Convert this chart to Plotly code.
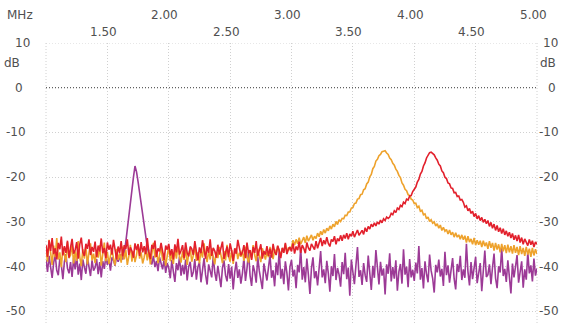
import numpy as np
import plotly.graph_objects as go

# Frequency grid (MHz), sampled every 0.0125 MHz from 1.00 to 5.00
FREQ_START = 1.0
FREQ_STOP = 5.0
N_POINTS = 321

purple_db = [
    -38.5,-41.2,-37.6,-40.3,-42.5,-39.1,-37.4,-40.8,-41.9,-38.2,-39.6,-42.8,-38.9,-37.2,-40.4,-41.5,
    -39.0,-42.3,-38.1,-40.6,-37.5,-41.8,-39.3,-43.0,-38.4,-40.1,-41.6,-37.9,-39.8,-42.1,-38.6,-40.9,
    -40.2,-38.3,-41.7,-39.0,-42.4,-38.8,-40.5,-37.7,-39.6,-38.2,-40.9,-37.9,-38.6,-39.8,-37.5,-38.9,
    -38.0,-37.2,-38.4,-36.9,-34.5,-31.5,-28.5,-25.0,-22.5,-20.0,-17.5,-18.8,-21.0,-23.6,-26.0,-28.6,
    -31.0,-33.5,-35.6,-37.2,-38.2,-39.5,-37.6,-40.1,-38.7,-41.0,-37.9,-39.4,-40.6,-38.3,-41.4,-39.2,
    -40.3,-42.6,-38.5,-41.1,-43.4,-39.2,-40.8,-37.8,-42.0,-39.6,-41.7,-38.4,-43.1,-40.0,-38.9,-42.3,
    -41.2,-38.3,-42.9,-40.1,-39.0,-43.5,-40.7,-38.1,-41.8,-44.0,-39.5,-40.9,-42.4,-37.6,-41.3,-43.2,
    -39.8,-42.1,-44.6,-40.3,-38.6,-41.9,-43.3,-39.4,-42.7,-40.0,-45.1,-41.2,-38.9,-42.5,-40.6,-43.8,
    -41.5,-38.0,-43.2,-40.4,-36.6,-42.0,-44.3,-39.7,-41.1,-43.6,-37.8,-40.9,-42.8,-45.0,-39.3,-41.7,
    -43.1,-40.2,-37.4,-42.5,-40.8,-44.4,-39.1,-41.9,-36.2,-42.7,-40.5,-43.9,-38.8,-41.4,-45.3,-40.0,
    -38.5,-42.2,-40.7,-44.8,-39.6,-41.3,-35.8,-42.9,-40.1,-43.5,-38.2,-41.8,-46.1,-40.4,-37.9,-42.6,
    -41.0,-44.2,-39.3,-36.5,-42.4,-40.6,-43.7,-38.7,-41.5,-45.6,-39.9,-42.1,-37.2,-43.0,-40.3,-41.8,
    -44.5,-39.0,-41.7,-36.9,-42.8,-40.2,-46.5,-38.4,-41.2,-43.9,-39.7,-35.6,-42.3,-40.8,-44.1,-39.2,
    -41.9,-43.4,-37.5,-40.6,-45.2,-39.8,-42.5,-36.3,-41.4,-44.0,-38.9,-42.0,-40.4,-46.2,-39.5,-41.6,
    -37.0,-43.3,-40.1,-42.7,-38.6,-45.4,-41.1,-39.4,-43.8,-36.1,-41.8,-40.0,-44.6,-38.3,-42.4,-40.7,
    -43.2,-39.1,-41.5,-35.4,-42.9,-40.3,-44.9,-38.8,-41.7,-43.5,-37.3,-40.9,-42.6,-45.8,-39.6,-41.3,
    -38.4,-42.2,-40.5,-44.3,-36.7,-41.9,-39.7,-43.6,-40.8,-38.1,-42.7,-45.1,-39.4,-41.2,-37.6,-43.0,
    -40.6,-42.5,-34.9,-41.1,-44.2,-39.0,-42.8,-40.3,-37.8,-43.7,-41.4,-39.2,-45.5,-40.7,-36.4,-42.3,
    -41.8,-39.5,-43.9,-40.2,-37.1,-42.6,-44.8,-39.9,-41.3,-35.7,-42.1,-40.5,-43.4,-38.6,-41.9,-46.0,
    -39.3,-42.4,-40.0,-37.4,-43.6,-41.2,-38.8,-44.7,-40.6,-42.9,-36.8,-41.5,-39.7,-43.3,-38.2,-42.0,
    -40.4,
]

orange_db = [
    -36.2,-38.9,-34.0,-37.5,-39.6,-35.3,-37.9,-33.6,-38.4,-36.8,-40.1,-35.7,-37.2,-39.0,-34.5,-38.1,
    -37.4,-35.0,-39.3,-36.6,-38.7,-34.3,-37.8,-39.9,-36.1,-38.2,-35.4,-39.5,-36.9,-34.8,-38.6,-37.1,
    -39.2,-36.4,-38.0,-35.2,-39.8,-37.3,-34.6,-38.8,-36.7,-39.4,-37.6,-35.9,-38.3,-39.7,-36.0,-38.5,
    -37.0,-39.1,-35.5,-38.4,-36.3,-39.6,-37.7,-35.1,-38.9,-36.5,-39.0,-37.4,-34.9,-38.2,-36.8,-39.3,
    -37.9,-35.8,-38.6,-36.2,-39.5,-37.1,-34.7,-38.0,-36.4,-39.2,-37.5,-35.6,-38.7,-36.9,-39.8,-37.3,
    -35.4,-38.8,-37.0,-39.4,-36.1,-38.2,-34.9,-37.8,-39.1,-36.6,-38.5,-35.7,-39.6,-37.2,-36.0,-38.9,
    -37.5,-35.3,-38.7,-36.8,-39.3,-36.2,-38.0,-34.8,-37.6,-39.0,-36.4,-38.4,-35.9,-37.9,-39.5,-36.7,
    -38.1,-35.6,-37.3,-39.2,-36.5,-38.6,-35.1,-37.7,-38.9,-36.3,-39.4,-37.0,-35.8,-38.3,-36.9,-37.8,
    -36.4,-38.7,-35.5,-37.9,-39.1,-36.6,-38.2,-35.2,-37.4,-38.8,-36.0,-37.7,-39.0,-35.9,-37.1,-38.4,
    -36.7,-37.9,-35.6,-37.2,-38.3,-36.1,-37.0,-35.4,-36.8,-37.6,-35.9,-36.5,-34.9,-36.9,-35.7,-36.2,
    -35.6,-34.1,-35.2,-33.9,-34.9,-33.5,-35.0,-34.2,-33.4,-34.7,-33.1,-34.3,-33.7,-32.9,-34.1,-33.2,
    -33.7,-32.5,-33.3,-32.1,-32.9,-31.7,-32.5,-31.4,-32.0,-30.9,-31.6,-30.5,-31.1,-29.9,-30.6,-29.5,
    -29.9,-29.2,-29.3,-28.5,-28.6,-27.8,-27.8,-26.9,-26.8,-25.9,-25.8,-24.9,-24.8,-23.9,-23.8,-22.8,
    -22.6,-21.5,-21.1,-19.9,-19.4,-18.1,-17.6,-16.4,-16.0,-15.2,-14.9,-14.3,-14.2,-14.1,-14.6,-14.9,
    -15.7,-16.1,-16.9,-17.3,-18.2,-18.7,-19.6,-20.1,-21.3,-21.8,-22.7,-23.0,-23.9,-24.1,-24.9,-25.1,
    -25.9,-25.8,-26.8,-26.5,-27.6,-27.4,-28.4,-28.2,-29.3,-28.9,-29.9,-29.5,-30.3,-30.0,-30.9,-30.4,
    -31.4,-30.7,-31.9,-31.2,-32.1,-31.7,-32.7,-31.8,-32.9,-32.3,-33.4,-32.4,-33.4,-32.9,-33.9,-32.9,
    -34.0,-33.1,-34.6,-33.2,-34.5,-33.8,-35.0,-33.6,-35.2,-34.1,-35.1,-34.2,-35.6,-34.2,-35.4,-34.6,
    -36.0,-34.3,-35.8,-34.7,-36.4,-34.7,-36.2,-35.0,-36.8,-34.9,-36.6,-35.2,-37.0,-35.1,-36.8,-35.4,
    -37.1,-35.2,-36.9,-35.6,-37.4,-35.4,-37.2,-35.8,-37.6,-35.6,-37.3,-36.0,-37.8,-35.8,-37.5,-36.1,
    -37.2,
]

red_db = [
    -35.2,-37.8,-34.1,-36.5,-33.6,-37.2,-35.9,-38.4,-34.7,-36.1,-33.3,-37.5,-35.4,-36.9,-34.2,-38.0,
    -35.7,-33.8,-37.1,-36.3,-34.5,-38.2,-35.0,-33.5,-36.8,-37.6,-34.9,-36.0,-33.9,-37.4,-35.6,-36.7,
    -34.4,-37.9,-35.3,-36.6,-33.7,-37.0,-35.8,-38.1,-34.6,-36.2,-35.1,-37.3,-34.0,-36.4,-38.3,-35.5,
    -36.9,-34.3,-37.7,-35.2,-36.1,-33.9,-37.4,-35.7,-36.5,-38.0,-34.8,-36.3,-35.0,-37.6,-34.5,-36.8,
    -35.4,-37.2,-33.6,-36.7,-38.3,-35.1,-36.0,-34.2,-37.8,-35.9,-36.6,-34.7,-37.1,-38.5,-35.3,-36.2,
    -34.9,-37.5,-36.1,-38.4,-35.0,-36.8,-33.8,-37.3,-36.4,-35.2,-38.1,-34.6,-36.9,-37.7,-35.5,-36.0,
    -37.4,-34.3,-36.6,-38.6,-35.7,-37.0,-34.1,-36.3,-38.2,-35.4,-36.9,-33.9,-37.6,-35.8,-36.5,-38.0,
    -35.1,-37.3,-36.0,-34.4,-38.3,-36.7,-35.5,-37.9,-34.8,-36.4,-38.7,-35.9,-37.1,-34.0,-36.2,-37.5,
    -36.8,-35.2,-38.1,-34.6,-37.0,-36.3,-38.5,-35.6,-36.9,-34.3,-37.7,-36.1,-35.0,-38.2,-36.5,-37.3,
    -35.4,-37.6,-36.0,-38.0,-34.9,-36.7,-37.4,-35.3,-36.4,-38.1,-35.8,-36.9,-34.7,-37.2,-36.1,-35.6,
    -36.6,-34.8,-37.1,-35.5,-36.3,-34.4,-36.9,-35.2,-35.9,-37.0,-34.6,-35.8,-36.4,-34.9,-35.5,-36.2,
    -34.3,-35.9,-34.7,-33.6,-35.4,-34.1,-35.0,-33.4,-34.8,-35.5,-33.9,-34.4,-33.2,-35.0,-33.7,-34.3,
    -33.0,-34.2,-32.9,-33.7,-32.5,-33.9,-32.7,-33.2,-32.1,-33.4,-32.6,-31.8,-33.0,-32.3,-31.9,-32.8,
    -31.3,-32.2,-31.0,-31.6,-30.5,-31.1,-30.2,-30.9,-30.0,-30.5,-29.6,-30.2,-29.3,-29.7,-28.9,-29.2,
    -28.9,-28.1,-28.4,-27.5,-27.9,-26.9,-27.2,-26.3,-26.6,-25.6,-25.9,-24.9,-25.1,-24.2,-24.1,-23.2,
    -22.6,-22.2,-21.1,-20.5,-19.3,-18.7,-17.5,-16.8,-15.7,-15.2,-14.5,-14.4,-14.7,-15.0,-15.7,-16.2,
    -17.1,-17.5,-18.6,-19.0,-20.0,-20.3,-21.3,-21.5,-22.4,-22.5,-23.5,-23.4,-24.3,-24.2,-25.1,-25.0,
    -25.6,-26.7,-26.4,-27.5,-27.0,-28.1,-27.6,-28.8,-28.1,-29.3,-28.6,-29.7,-29.0,-30.1,-29.4,-30.4,
    -29.7,-31.0,-30.1,-31.4,-30.5,-31.9,-30.8,-32.2,-31.3,-32.6,-31.5,-32.9,-32.0,-33.2,-32.3,-33.6,
    -32.6,-34.0,-33.0,-34.3,-32.9,-34.6,-33.5,-35.0,-33.8,-34.4,-35.3,-33.9,-35.1,-34.2,-35.6,-34.5,
    -35.0,
]

assert len(purple_db) == N_POINTS and len(orange_db) == N_POINTS and len(red_db) == N_POINTS

freq_mhz = np.round(np.linspace(FREQ_START, FREQ_STOP, N_POINTS), 4)

x_ticks_top = [2.0, 3.0, 4.0, 5.0]
x_ticks_bottom = [1.5, 2.5, 3.5, 4.5]
y_ticks = [10, 0, -10, -20, -30, -40, -50]

PURPLE = "#9c3a96"
ORANGE = "#eea22c"
RED = "#e2202c"
TEXT = "#505050"
GRID = "#d0d0d0"
GRID_DASH = "1px,2px"
FONT = "DejaVu Sans"

fig = go.Figure()
for vals, col in [(purple_db, PURPLE), (orange_db, ORANGE), (red_db, RED)]:
    fig.add_trace(go.Scatter(x=freq_mhz, y=vals, mode="lines",
                             line=dict(color=col, width=1.6), hoverinfo="skip"))

fig.update_layout(
    width=561, height=323,
    margin=dict(l=46, r=24, t=43, b=0),
    paper_bgcolor="white", plot_bgcolor="white",
    showlegend=False,
    font=dict(family=FONT, size=12, color=TEXT),
    xaxis=dict(range=[1.0, 5.0], tick0=1.0, dtick=0.5, showticklabels=False,
               showgrid=True, gridcolor=GRID, griddash=GRID_DASH, gridwidth=1,
               zeroline=False, showline=False, ticks=""),
    yaxis=dict(range=[-52.6, 10], tick0=10, dtick=10, showticklabels=False,
               showgrid=True, gridcolor=GRID, griddash=GRID_DASH, gridwidth=1,
               zeroline=False, showline=False, ticks=""),
)

# plot frame edges (dotted, like the grid)
for xe in (0, 1):
    fig.add_shape(type="line", xref="paper", yref="paper", x0=xe, x1=xe, y0=0, y1=1,
                  line=dict(color=GRID, width=1, dash=GRID_DASH), layer="below")
fig.add_shape(type="line", xref="paper", yref="y", x0=0, x1=1, y0=10, y1=10,
              line=dict(color=GRID, width=1, dash=GRID_DASH), layer="below")

# dark dotted reference line at 0 dB
fig.add_shape(type="line", xref="paper", yref="y", x0=0, x1=1, y0=0, y1=0,
              line=dict(color="#404040", width=1, dash="1px,2px"))

# x tick labels (staggered, above the plot)
for v in x_ticks_top:
    fig.add_annotation(x=v, xref="x", y=1, yref="paper", text=f"{v:.2f}",
                       showarrow=False, xanchor="center", yanchor="middle",
                       xshift=-4, yshift=28)
for v in x_ticks_bottom:
    fig.add_annotation(x=v, xref="x", y=1, yref="paper", text=f"{v:.2f}",
                       showarrow=False, xanchor="center", yanchor="middle",
                       xshift=-4, yshift=11)
fig.add_annotation(x=0, xref="paper", y=1, yref="paper", text="MHz",
                   showarrow=False, xanchor="center", yanchor="middle",
                   xshift=-26, yshift=28)

# y tick labels on both sides
for v in y_ticks:
    lx = {10: -24, 0: -27}.get(v, -30)
    rx = {10: 13, 0: 15}.get(v, 12)
    fig.add_annotation(x=0, xref="paper", y=v, yref="y", text=str(v),
                       showarrow=False, xanchor="center", yanchor="middle", xshift=lx)
    fig.add_annotation(x=1, xref="paper", y=v, yref="y", text=str(v),
                       showarrow=False, xanchor="center", yanchor="middle", xshift=rx)
for px, sx in [(0, -34), (1, 11)]:
    fig.add_annotation(x=px, xref="paper", y=5.5, yref="y", text="dB",
                       showarrow=False, xanchor="center", yanchor="middle", xshift=sx)

fig.write_html("out.html", config={"displayModeBar": False},
               post_script="document.body.style.margin='0';")
